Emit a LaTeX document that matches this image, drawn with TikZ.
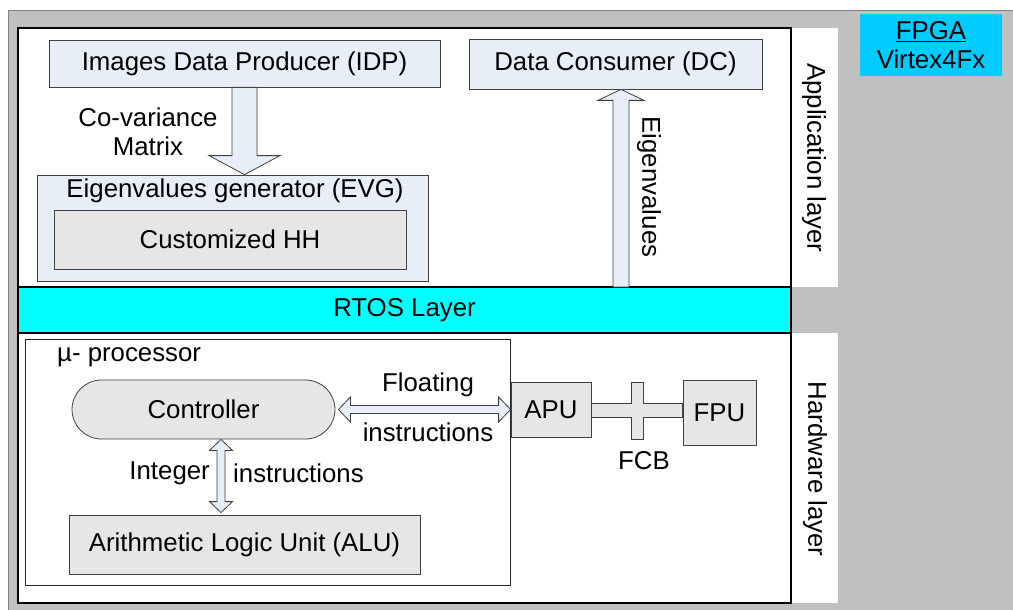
\documentclass[tikz,border=0pt]{standalone}
\usepackage{fontspec}
\setmainfont{Liberation Sans}
\usetikzlibrary{calc}

\definecolor{bgGrey}{HTML}{C0C0C0}
\definecolor{frameGrey}{HTML}{808080}
\definecolor{paleBlue}{HTML}{E8EEF8}
\definecolor{lightGrey}{HTML}{E6E6E6}
\definecolor{rtosCyan}{HTML}{00FFFF}
\definecolor{fpgaCyan}{HTML}{00CCFF}
\definecolor{edgeGrey}{HTML}{404040}

\begin{document}
\begin{tikzpicture}[x=1pt,y=-1pt,
  every node/.style={font=\fontsize{25.8}{29}\selectfont, inner sep=0pt, text=black},
  box/.style={draw=edgeGrey, line width=0.8pt},
  bluebox/.style={box, fill=paleBlue},
  greybox/.style={box, fill=lightGrey},
  layerbox/.style={draw=black, line width=2pt},
  blockarr/.style={draw=edgeGrey, fill=paleBlue, line width=0.8pt, line join=miter},
  busbar/.style={draw=edgeGrey, fill=lightGrey, line width=0.8pt, line join=miter}]

\useasboundingbox (0,0) rectangle (1013,610);

% FPGA background
\begin{scope}
  \clip (0,0) rectangle (1013,610);
  \draw[fill=bgGrey, draw=frameGrey, line width=1pt] (8,11) rectangle (1030,630);
\end{scope}

\node[fill=fpgaCyan, minimum width=142pt, minimum height=62pt, align=center] (fpga) at (931,45)
  {\underline{FPGA}\\Virtex4Fx};

% label strips of the two layers
\fill[white] (785,28) rectangle (838,287);
\fill[white] (785,333) rectangle (838,603);

% layers
\node[layerbox, fill=white, minimum width=773pt, minimum height=259pt] (app) at (404.5,157.5) {};
\node[layerbox, fill=white, minimum width=773pt, minimum height=270pt] (hw) at (404.5,468) {};
\node[layerbox, fill=rtosCyan, minimum width=773pt, minimum height=46pt] (rtos) at (404.5,310) {RTOS Layer};

\node[rotate=-90] (applabel) at (814,158) {Application layer};
\node[rotate=-90] (hwlabel) at (815,469) {Hardware layer};

% application layer
\node[bluebox, minimum width=391pt, minimum height=47pt] (idp) at (244.5,63.5) {Images Data Producer (IDP)};
\node[bluebox, minimum width=293pt, minimum height=50pt] (dc) at (615.5,64) {Data Consumer (DC)};
\node[bluebox, minimum width=391pt, minimum height=106pt] (evg) at (232.5,228) {};
\node (evglabel) at (235,191) {Eigenvalues generator (EVG)};
\node[greybox, minimum width=352pt, minimum height=59pt] (hh) at (230,239.5) {Customized HH};

% co-variance arrow
\coordinate (covTop) at (idp.south);
\coordinate (covTip) at (idp.south |- evg.north);
\draw[blockarr] ($(covTop)+(-12.5,0)$) -- ($(covTip)+(-12.5,-19)$) -- ++(-23,0) -- (covTip)
  -- ++(35.5,-19) -- ++(-23,0) -- ($(covTop)+(12.5,0)$) -- cycle;
\node[align=center] (covlabel) at (148,132) {Co-variance\\Matrix};

% eigenvalues arrow
\coordinate (evBase) at (621,287);
\coordinate (evTip) at (evBase |- dc.south);
\draw[blockarr] ($(evBase)+(-8,0)$) -- ($(evTip)+(-8,11)$) -- ++(-15,0) -- (evTip)
  -- ++(23,11) -- ++(-15,0) -- ($(evBase)+(8,0)$) -- cycle;
\node[rotate=-90] (evlabel) at (649,187) {Eigenvalues};

% hardware layer
\node[draw=black!85, line width=0.8pt, minimum width=485pt, minimum height=246pt] (proc) at (267.5,462) {};
\node[anchor=west] (proclabel) at (57,357) {µ- processor};
\node[greybox, rounded corners=29.5pt, minimum width=263pt, minimum height=59pt] (ctrl) at (203.5,409.5) {Controller};
\node[greybox, minimum width=351pt, minimum height=59pt] (alu) at (244.5,544.5) {Arithmetic Logic Unit (ALU)};
\node[greybox, minimum width=80pt, minimum height=55pt] (apu) at (551,409.5) {APU};
\node[greybox, minimum width=73pt, minimum height=65pt] (fpu) at (719.5,412.5) {FPU};

% floating instructions: controller <-> APU
\coordinate (flA) at ($(ctrl.east)+(3,0)$);
\coordinate (flB) at (apu.west);
\draw[blockarr] (flA) -- ++(12,12.5) -- ++(0,-8.5) -- ($(flB)+(-12,4)$) -- ++(0,8.5) -- (flB)
  -- ++(-12,-12.5) -- ++(0,8.5) -- ($(flA)+(12,-4)$) -- ++(0,-8.5) -- cycle;
\node (fltop) at (428,385) {Floating};
\node (flbot) at (428,432) {instructions};

% integer instructions: controller <-> ALU
\coordinate (inA) at ($(ctrl.south)+(17.5,0)$);
\coordinate (inB) at ($(inA |- alu.north)+(0,-2)$);
\draw[blockarr] (inA) -- ++(11.5,11) -- ++(-7.5,0) -- ($(inB)+(4,-11)$) -- ++(7.5,0) -- (inB)
  -- ++(-11.5,-11) -- ++(7.5,0) -- ($(inA)+(-4,11)$) -- ++(-7.5,0) -- cycle;
\node[anchor=east] (inleft) at (210,473) {Integer};
\node[anchor=west] (inright) at (233,473) {instructions};

% FCB bus between APU and FPU
\coordinate (fcb) at (637,410);
\coordinate (busA) at (apu.east |- fcb);
\coordinate (busB) at (fpu.west |- fcb);
\draw[busbar] ($(busA)+(0,-7)$) -- ($(fcb)+(-6,-7)$) -- ($(fcb)+(-6,-28)$) -- ($(fcb)+(6,-28)$)
  -- ($(fcb)+(6,-7)$) -- ($(busB)+(0,-7)$) -- ($(busB)+(0,7)$) -- ($(fcb)+(6,7)$)
  -- ($(fcb)+(6,29)$) -- ($(fcb)+(-6,29)$) -- ($(fcb)+(-6,7)$) -- ($(busA)+(0,7)$) -- cycle;
\node (fcblabel) at (644,461) {FCB};

\end{tikzpicture}
\end{document}
